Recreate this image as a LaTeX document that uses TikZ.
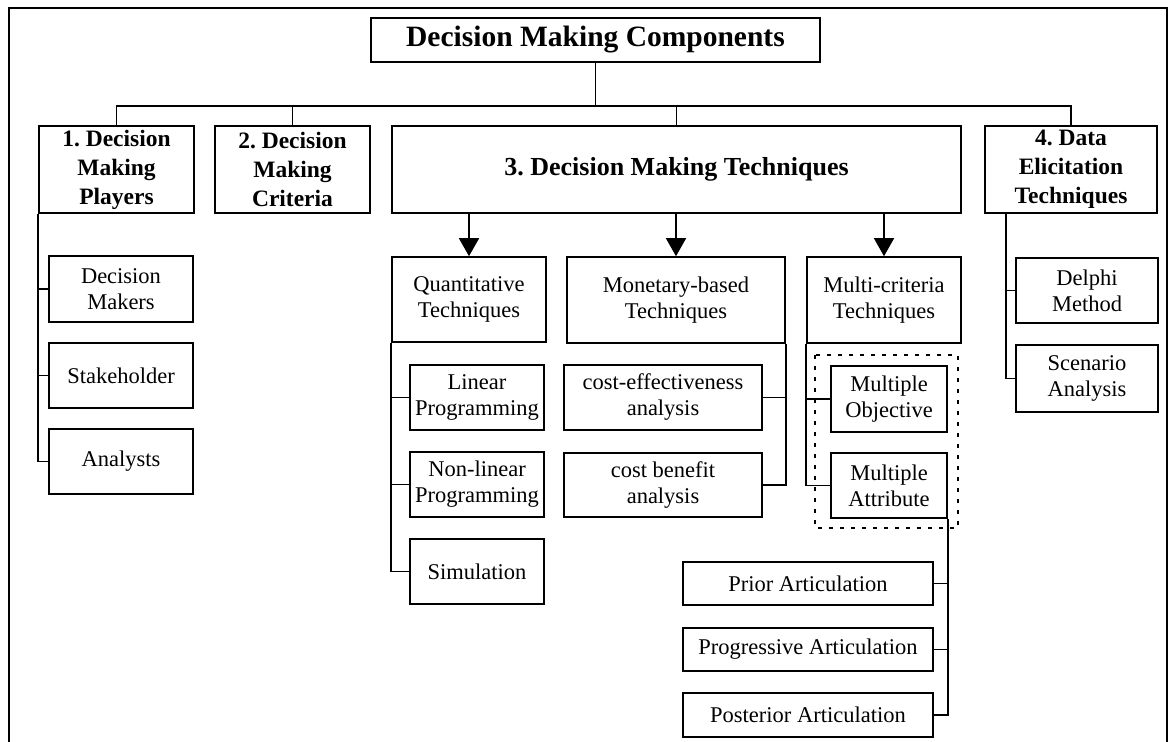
\documentclass[tikz,border=0pt]{standalone}
\usepackage{fontspec}
\setmainfont{Liberation Serif}
\usetikzlibrary{arrows.meta}
\frenchspacing
\begin{document}
\begin{tikzpicture}[x=1pt,y=-1pt,
  box/.style={draw, line width=1.6pt, inner sep=0pt, align=center,
              font=\fontsize{22.5}{26}\selectfont},
  head/.style={box, font=\fontsize{23.5}{29}\bfseries\selectfont},
  link/.style={line width=1.6pt},
  arr/.style={link, -{Triangle[length=18pt,width=20pt]}},
  dotbox/.style={line width=2pt, dash pattern=on 4pt off 7pt},
  frame/.style={line width=1.2pt},
]
\useasboundingbox (0,0) rectangle (1171,742);

% page frame
\draw[frame] (9,742) -- (9,8) -- (1167,8) -- (1167,742);

% root
\node[head, font=\fontsize{29.5}{32}\bfseries\selectfont,
      minimum width=449, minimum height=44] (root) at (595.5,40) {Decision Making Components};

% main components
\node[head, minimum width=155, minimum height=87] (players)  at (116.5,169.5) {1. Decision\\Making\\Players};
\node[head, minimum width=155, minimum height=87] (criteria) at (292.5,169.5) {2. Decision\\Making\\Criteria};
\node[head, font=\fontsize{26}{29}\bfseries\selectfont,
      minimum width=569, minimum height=87] (techs) at (676.5,169.5) {3. Decision Making Techniques};
\node[head, minimum width=172, minimum height=87] (elicit) at (1071,169.5) {4. Data\\Elicitation\\Techniques};

\coordinate (bus) at (0,106);
\draw[link] (root.south) -- (root.south |- bus);
\draw[link] (players.north) -- (players.north |- bus) -| (elicit.north);
\draw[link] (criteria.north) -- (criteria.north |- bus);
\draw[link] (techs.north) -- (techs.north |- bus);

% decision making players
\node[box, minimum width=144, minimum height=66] (dm) at (121,289)   {Decision\\Makers};
\node[box, minimum width=144, minimum height=65] (sh) at (121,375.5) {Stakeholder};
\node[box, minimum width=144, minimum height=65] (an) at (121,461.5) {Analysts};
\draw[link] (players.south west) |- (an.west);
\draw[link] (dm.west) -| (players.south west);
\draw[link] (sh.west) -| (players.south west);

% technique families
\node[box, minimum width=154, minimum height=85] (quant) at (469,299.5) {Quantitative\\Techniques};
\node[box, minimum width=218, minimum height=86] (monet) at (676,300)   {Monetary-based\\Techniques};
\node[box, minimum width=154, minimum height=86] (multi) at (884,300)   {Multi-criteria\\Techniques};
\draw[arr] (quant.north |- techs.south) -- (quant.north);
\draw[arr] (monet.north |- techs.south) -- (monet.north);
\draw[arr] (multi.north |- techs.south) -- (multi.north);

% quantitative techniques
\node[box, minimum width=134, minimum height=65] (lin)    at (477,397.5) {Linear\\Programming};
\node[box, minimum width=134, minimum height=65] (nonlin) at (477,484.5) {Non-linear\\Programming};
\node[box, minimum width=134, minimum height=65] (sim)    at (477,571.5) {Simulation};
\draw[link] (quant.south west) |- (sim.west);
\draw[link] (lin.west) -| (quant.south west);
\draw[link] (nonlin.west) -| (quant.south west);

% monetary-based techniques
\node[box, minimum width=198, minimum height=65] (ce) at (663,397.5) {cost-effectiveness\\analysis};
\node[box, minimum width=198, minimum height=64] (cb) at (663,485)   {cost benefit\\analysis};
\draw[link] (monet.south east) |- (cb.east);
\draw[link] (ce.east) -| (monet.south east);

% multi-criteria techniques
\node[box, minimum width=116, minimum height=66] (mo) at (889,399)   {Multiple\\Objective};
\node[box, minimum width=116, minimum height=65] (ma) at (889,485.5) {Multiple\\Attribute};
\draw[link] (multi.south west) |- (ma.west);
\draw[link] (mo.west) -| (multi.south west);
\draw[dotbox] (815,355) rectangle (958,528);

% articulation of preferences
\node[box, minimum width=250, minimum height=43] (prior) at (808,583.5) {Prior Articulation};
\node[box, minimum width=250, minimum height=43] (prog)  at (808,649.5) {Progressive Articulation};
\node[box, minimum width=250, minimum height=44] (post)  at (808,715)   {Posterior Articulation};
\draw[link] (ma.south east) |- (post.east);
\draw[link] (prior.east) -| (ma.south east);
\draw[link] (prog.east) -| (ma.south east);

% data elicitation techniques
\node[box, minimum width=142, minimum height=65] (delphi) at (1087,290.5) {Delphi\\Method};
\node[box, minimum width=142, minimum height=67] (scen)   at (1087,378.5) {Scenario\\Analysis};
\coordinate (espine) at (1006,213);
\draw[link] (espine) |- (scen.west);
\draw[link] (delphi.west) -| (espine);

\end{tikzpicture}
\end{document}
